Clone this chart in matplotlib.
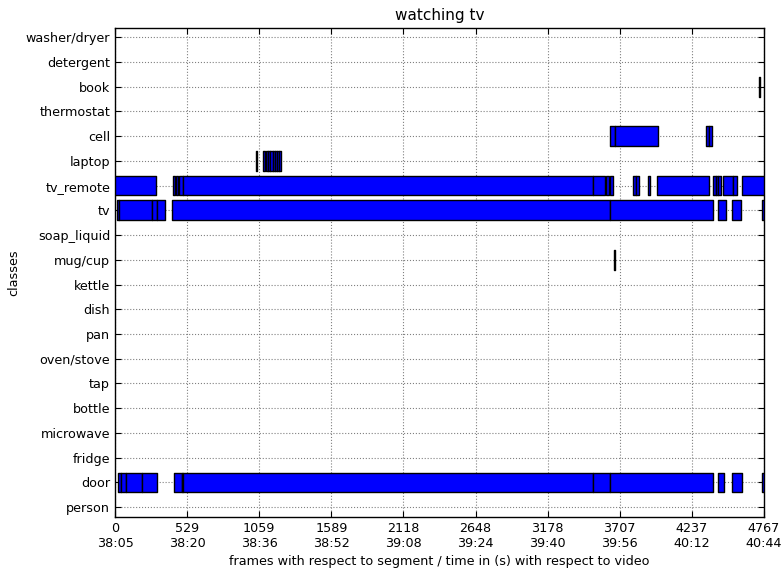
import matplotlib
matplotlib.use('Agg')
import matplotlib.pyplot as plt
import numpy as np

classes = ['person', 'door', 'fridge', 'microwave', 'bottle', 'tap', 'oven/stove',
           'pan', 'dish', 'kettle', 'mug/cup', 'soap_liquid', 'tv', 'tv_remote',
           'laptop', 'cell', 'thermostat', 'book', 'detergent', 'washer/dryer']

n_frames = 4767
time_labels = ['38:05', '38:20', '38:36', '38:52', '39:08', '39:24', '39:40',
               '39:56', '40:12', '40:44']

# (start frame, length in frames) for each detected segment
door = [(24, 20), (44, 37), (81, 117), (198, 110), (430, 59), (489, 13),
        (502, 3009), (3511, 126), (3637, 758), (4432, 44), (4530, 78), (4750, 15)]
mug_cup = [(3663, 10)]
tv = [(15, 11), (32, 239), (275, 31), (306, 64), (416, 3221), (3637, 754),
      (4432, 54), (4530, 68), (4750, 17)]
tv_remote = [(0, 301), (425, 15), (447, 18), (469, 30), (499, 3012), (3511, 90),
             (3608, 22), (3633, 24), (3801, 27), (3828, 17), (3914, 15),
             (3984, 382), (4395, 16), (4415, 17), (4432, 17), (4468, 69),
             (4537, 30), (4608, 157)]
laptop = [(1034, 7), (1089, 11), (1107, 15), (1126, 14), (1140, 19), (1159, 14),
          (1173, 15), (1188, 15), (1203, 19)]
cell = [(3637, 32), (3669, 318), (4339, 27), (4366, 20)]
book = [(4730, 10)]

segments = {'door': door, 'mug/cup': mug_cup, 'tv': tv, 'tv_remote': tv_remote,
            'laptop': laptop, 'cell': cell, 'book': book}

fs = 9.2

fig = plt.figure(figsize=(7.83, 5.72), dpi=100)
ax = fig.add_axes([0.1469, 0.0961, 0.8289, 0.8549])

for i, c in enumerate(classes):
    if c in segments:
        ax.broken_barh(segments[c], (i - 0.4, 0.8), facecolors='blue',
                       edgecolors='black', linewidth=1.0, zorder=3)

ticks = np.linspace(0, n_frames, 10).astype(int)
ax.set_xticks(ticks)
ax.set_xticklabels([f'{t}\n{s}' for t, s in zip(ticks, time_labels)], fontsize=fs)
ax.set_xlim(0, n_frames)
ax.set_yticks(range(len(classes)))
ax.set_yticklabels(classes, fontsize=fs)
ax.set_ylim(-0.4, len(classes) - 0.63)

ax.tick_params(direction='in', top=True, right=True, length=4, width=0.8)
ax.grid(True, linestyle=':', color='0.5', linewidth=0.8, zorder=0)
ax.set_axisbelow(True)
for s in ax.spines.values():
    s.set_linewidth(1.0)

ax.set_title('watching tv', fontsize=11)
ax.set_xlabel('frames with respect to segment / time in (s) with respect to video',
              fontsize=fs)
ax.set_ylabel('classes', fontsize=fs)

fig.savefig('out.png', dpi=100)
